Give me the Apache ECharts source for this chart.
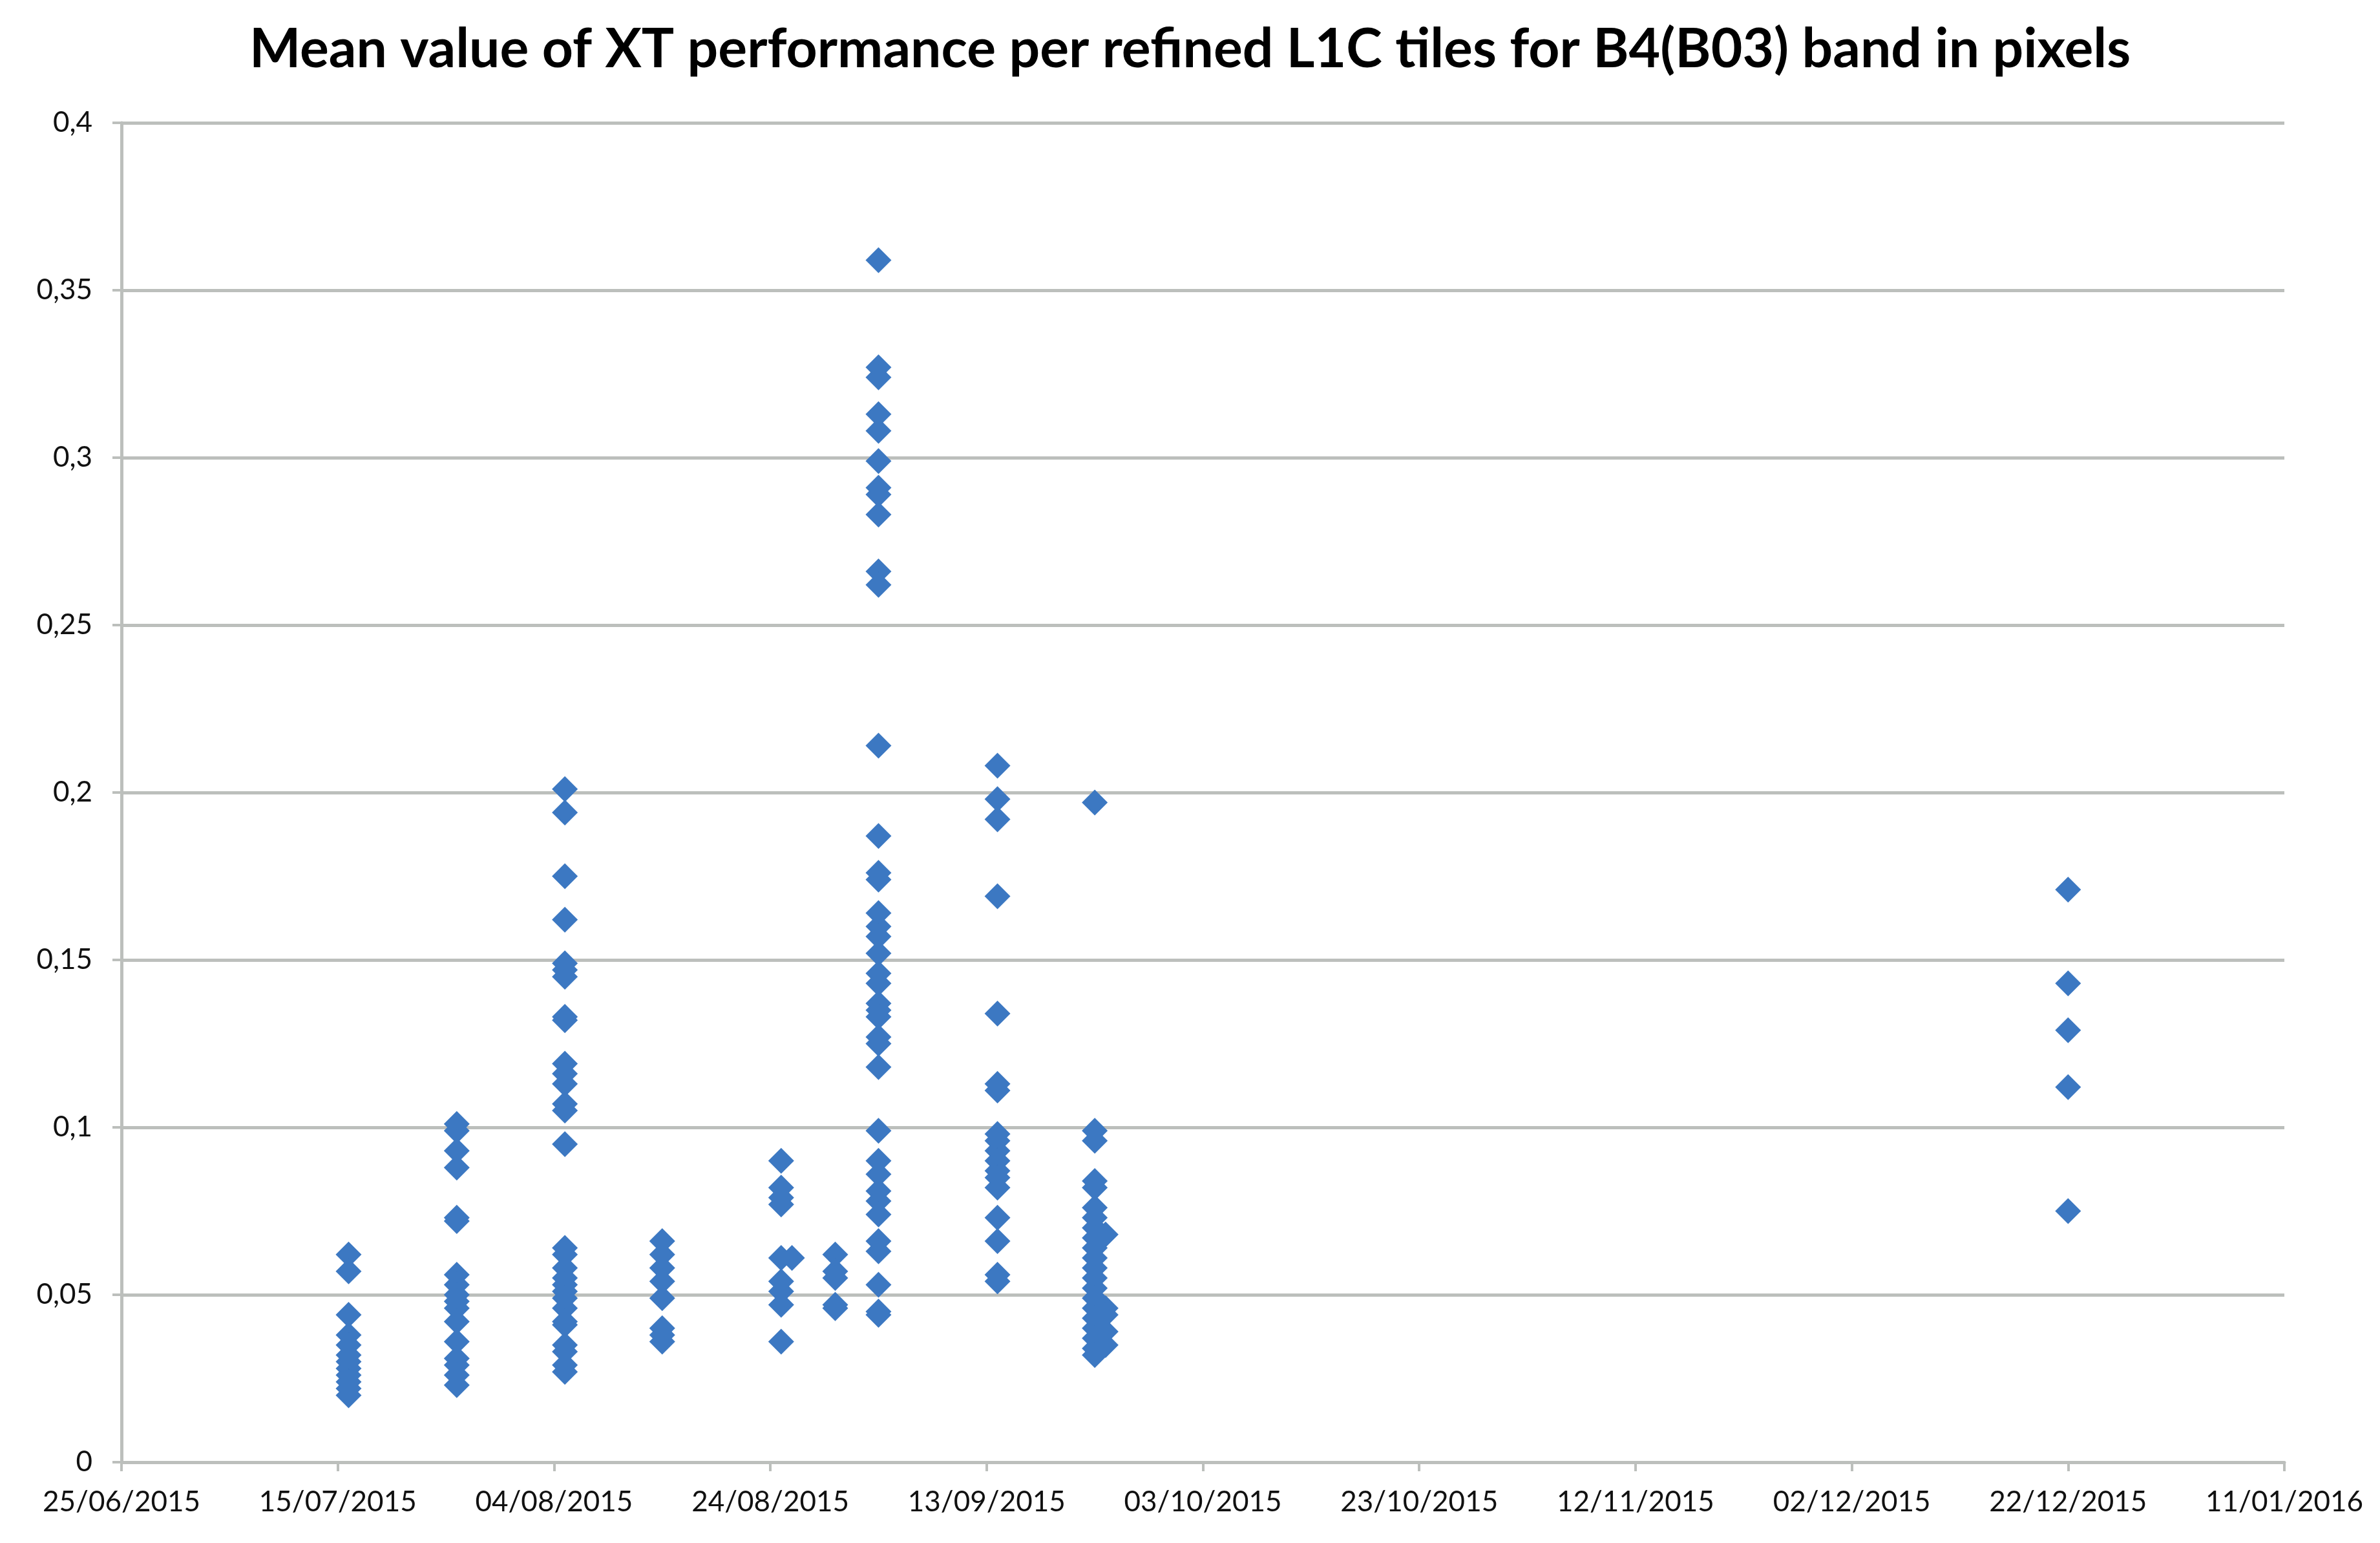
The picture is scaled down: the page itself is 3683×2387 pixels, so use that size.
<!DOCTYPE html>
<html>
<head>
<meta charset="utf-8">
<script src="https://cdn.jsdelivr.net/npm/echarts@6/dist/echarts.min.js"></script>
<style>
  html, body { margin: 0; padding: 0; background: #fff; }
  #chart { width: 3683px; height: 2387px; }
</style>
</head>
<body>
<div id="chart"></div>
<script>
// acquisition dates, one per column of points
var dates = ['2015-07-16', '2015-07-26', '2015-08-05', '2015-08-14', '2015-08-25',
  '2015-08-26', '2015-08-30', '2015-09-03', '2015-09-14', '2015-09-23',
  '2015-09-24', '2015-12-22'];

// mean XT performance per tile (pixels)
var jul16 = [0.062, 0.057, 0.044, 0.038, 0.035, 0.032, 0.030, 0.028, 0.026, 0.024, 0.022, 0.020];
var jul26 = [0.101, 0.099, 0.093, 0.088, 0.073, 0.072, 0.056, 0.053, 0.050, 0.048, 0.046, 0.042,
  0.036, 0.031, 0.029, 0.026, 0.023];
var aug05 = [0.201, 0.194, 0.175, 0.162, 0.149, 0.147, 0.145, 0.133, 0.132, 0.119, 0.116, 0.113,
  0.107, 0.105, 0.095, 0.064, 0.062, 0.058, 0.055, 0.053, 0.051, 0.049, 0.046, 0.042, 0.041,
  0.035, 0.033, 0.029, 0.027];
var aug14 = [0.066, 0.062, 0.058, 0.054, 0.049, 0.040, 0.038, 0.036];
var aug25 = [0.090, 0.082, 0.079, 0.077, 0.061, 0.054, 0.051, 0.047, 0.036];
var aug26 = [0.061];
var aug30 = [0.062, 0.057, 0.055, 0.047, 0.046];
var sep03 = [0.359, 0.327, 0.324, 0.313, 0.308, 0.299, 0.291, 0.289, 0.283, 0.266, 0.262, 0.214,
  0.187, 0.176, 0.174, 0.164, 0.160, 0.157, 0.152, 0.146, 0.143, 0.137, 0.135, 0.133, 0.127,
  0.125, 0.118, 0.099, 0.090, 0.086, 0.081, 0.078, 0.074, 0.066, 0.063, 0.053, 0.045, 0.044];
var sep14 = [0.208, 0.198, 0.192, 0.169, 0.134, 0.113, 0.111, 0.098, 0.096, 0.093, 0.090, 0.087,
  0.085, 0.082, 0.073, 0.066, 0.056, 0.054];
var sep23 = [0.197, 0.099, 0.096, 0.084, 0.082, 0.076, 0.073, 0.070, 0.067, 0.064, 0.061, 0.058,
  0.055, 0.052, 0.049, 0.046, 0.043, 0.040, 0.037, 0.034, 0.032];
var sep24 = [0.068, 0.046, 0.044, 0.039, 0.035];
var dec22 = [0.171, 0.143, 0.129, 0.112, 0.075];

var columns = [jul16, jul26, aug05, aug14, aug25, aug26, aug30, sep03, sep14, sep23, sep24, dec22];

// x axis runs in days from 25/06/2015, ticks every 20 days
var startDate = Date.UTC(2015, 5, 25);
var dayMs = 86400000;

function dayOffset(s) {
  var p = s.split('-');
  return Math.round((Date.UTC(+p[0], +p[1] - 1, +p[2]) - startDate) / dayMs);
}

function fmtDate(v) {
  var d = new Date(startDate + v * dayMs);
  var dd = ('0' + d.getUTCDate()).slice(-2);
  var mm = ('0' + (d.getUTCMonth() + 1)).slice(-2);
  return dd + '/' + mm + '/' + d.getUTCFullYear();
}

var points = [];
columns.forEach(function (col, i) {
  var x = dayOffset(dates[i]);
  col.forEach(function (v) { points.push([x, v]); });
});

var gridColor = '#bcbfbc';
var font = 'Lato, "Open Sans", sans-serif';

var chart = echarts.init(document.getElementById('chart'), null, {renderer: 'canvas'});

chart.setOption({
  animation: false,
  backgroundColor: '#ffffff',
  title: {
    text: 'Mean value of XT performance per refined L1C tiles for B4(B03) band in pixels',
    left: 'center',
    top: 30,
    textStyle: {
      fontFamily: font,
      fontSize: 84,
      fontWeight: 'bold',
      color: '#000000'
    }
  },
  grid: {
    left: 188,
    right: 148,
    top: 190,
    bottom: 125,
    containLabel: false
  },
  xAxis: {
    type: 'value',
    min: 0,
    max: 200,
    interval: 20,
    axisLine: {show: true, onZero: false, lineStyle: {color: gridColor, width: 5}},
    axisTick: {show: true, length: 14, lineStyle: {color: gridColor, width: 4}},
    splitLine: {show: false},
    axisLabel: {
      margin: 40,
      fontFamily: font,
      fontSize: 44,
      color: '#111111',
      formatter: fmtDate
    }
  },
  yAxis: {
    type: 'value',
    min: 0,
    max: 0.4,
    interval: 0.05,
    axisLine: {show: true, lineStyle: {color: gridColor, width: 5}},
    axisTick: {show: true, length: 14, lineStyle: {color: gridColor, width: 4}},
    splitLine: {show: true, lineStyle: {color: gridColor, width: 5}},
    axisLabel: {
      margin: 45,
      fontFamily: font,
      fontSize: 44,
      color: '#111111',
      formatter: function (v) {
        return String(+v.toFixed(2)).replace('.', ',');
      }
    }
  },
  series: [{
    type: 'scatter',
    data: points,
    symbol: 'diamond',
    symbolSize: 40,
    itemStyle: {color: '#3c78c2', opacity: 1}
  }]
});
</script>
</body>
</html>
